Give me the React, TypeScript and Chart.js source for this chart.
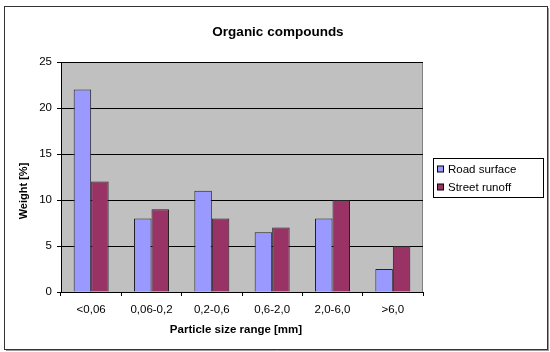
import React, { useEffect, useRef } from "react";
import { Chart, registerables } from "chart.js";

Chart.register(...registerables);

const categories = ["<0,06", "0,06-0,2", "0,2-0,6", "0,6-2,0", "2,0-6,0", ">6,0"];
const roadSurface = [22, 8, 11, 6.5, 8, 2.5];
const streetRunoff = [12, 9, 8, 7, 10, 5];
const seriesNames = ["Road surface", "Street runoff"];
const seriesColors = ["#9999FF", "#993366"];
const yTicks = [0, 5, 10, 15, 20, 25];
const titleText = "Organic compounds";
const xTitle = "Particle size range [mm]";
const yTitle = "Weight [%]";

const FONT = "'Liberation Sans', Arial, sans-serif";

const decorPlugin = {
  id: "decor",
  beforeDraw(chart: any) {
    const { ctx, chartArea } = chart;
    ctx.save();
    ctx.fillStyle = "#ffffff";
    ctx.fillRect(0, 0, chart.width, chart.height);
    ctx.fillStyle = "#C0C0C0";
    ctx.fillRect(chartArea.left, chartArea.top, chartArea.right - chartArea.left, chartArea.bottom - chartArea.top);
    ctx.strokeStyle = "#808080";
    ctx.lineWidth = 1;
    ctx.strokeRect(chartArea.left + 0.5, chartArea.top + 0.5, chartArea.right - chartArea.left - 1, chartArea.bottom - chartArea.top);
    ctx.restore();
  },
  afterDraw(chart: any) {
    const { ctx } = chart;
    ctx.save();
    // outer border
    ctx.strokeStyle = "#333333";
    ctx.lineWidth = 1;
    ctx.strokeRect(4.5, 6.5, 543, 343);
    ctx.strokeStyle = "#999999";
    ctx.beginPath();
    ctx.moveTo(548.5, 8);
    ctx.lineTo(548.5, 351);
    ctx.moveTo(6, 350.5);
    ctx.lineTo(549, 350.5);
    ctx.stroke();

    // chart title
    ctx.fillStyle = "#000000";
    ctx.textAlign = "center";
    ctx.textBaseline = "middle";
    ctx.font = `bold 13.5px ${FONT}`;
    ctx.fillText(titleText, 278, 32);

    // axis titles
    ctx.font = `bold 11.5px ${FONT}`;
    ctx.fillText(xTitle, 236, 330);
    ctx.save();
    ctx.translate(24, 191);
    ctx.rotate(-Math.PI / 2);
    ctx.font = `bold 11px ${FONT}`;
    ctx.fillText(yTitle, 0, 0);
    ctx.restore();

    // legend
    const lx = 433.5, ly = 158.5, lw = 110, lh = 39;
    ctx.fillStyle = "#ffffff";
    ctx.fillRect(lx, ly, lw, lh);
    ctx.strokeStyle = "#000000";
    ctx.strokeRect(lx, ly, lw, lh);
    ctx.font = `11.5px ${FONT}`;
    ctx.textAlign = "left";
    ctx.textBaseline = "middle";
    chart.data.datasets.forEach((ds: any, i: number) => {
      const cy = 169 + i * 18;
      ctx.fillStyle = ds.backgroundColor;
      ctx.fillRect(437.5, cy - 3, 6, 6);
      ctx.strokeStyle = "#000000";
      ctx.strokeRect(437.5, cy - 3, 6, 6);
      ctx.fillStyle = "#000000";
      ctx.fillText(ds.label, 448, cy + 0.5);
    });
    ctx.restore();
  },
};

export default function App() {
  const ref = useRef<HTMLCanvasElement | null>(null);
  useEffect(() => {
    if (!ref.current) return;
    const chart = new Chart(ref.current, {
      type: "bar",
      data: {
        labels: categories,
        datasets: [
          {
            label: seriesNames[0],
            data: roadSurface,
            backgroundColor: seriesColors[0],
            borderColor: "#222222",
            borderWidth: 1,
            categoryPercentage: 0.58,
            barPercentage: 1,
          },
          {
            label: seriesNames[1],
            data: streetRunoff,
            backgroundColor: seriesColors[1],
            borderColor: "#222222",
            borderWidth: 1,
            categoryPercentage: 0.58,
            barPercentage: 1,
          },
        ],
      },
      options: {
        responsive: false,
        animation: false,
        devicePixelRatio: 1,
        layout: { padding: { left: 0, right: 127, top: 62, bottom: 0 } },
        plugins: {
          legend: { display: false },
          tooltip: { enabled: false },
          title: { display: false },
        },
        scales: {
          x: {
            afterFit: (s: any) => {
              s.height = 60;
            },
            grid: {
              drawOnChartArea: false,
              drawTicks: true,
              tickLength: 4,
              color: "#000000",
              offset: true,
            },
            border: { display: true, color: "#000000" },
            ticks: {
              color: "#000000",
              font: { family: FONT, size: 11.5 },
              padding: 7,
              maxRotation: 0,
            },
          },
          y: {
            min: 0,
            max: 25,
            afterFit: (s: any) => {
              s.width = 61;
            },
            afterBuildTicks: (s: any) => {
              s.ticks = yTicks.map((v) => ({ value: v }));
            },
            grid: {
              color: "#000000",
              tickLength: 4,
              drawTicks: true,
            },
            border: { display: true, color: "#000000" },
            ticks: {
              color: "#000000",
              font: { family: FONT, size: 11.5 },
              padding: 5,
            },
          },
        },
      },
      plugins: [decorPlugin],
    });
    return () => chart.destroy();
  }, []);
  return (
    <div style={{ position: "fixed", left: 0, top: 0, width: 550, height: 352 }}>
      <canvas ref={ref} width={550} height={352} style={{ display: "block", width: 550, height: 352 }} />
    </div>
  );
}
